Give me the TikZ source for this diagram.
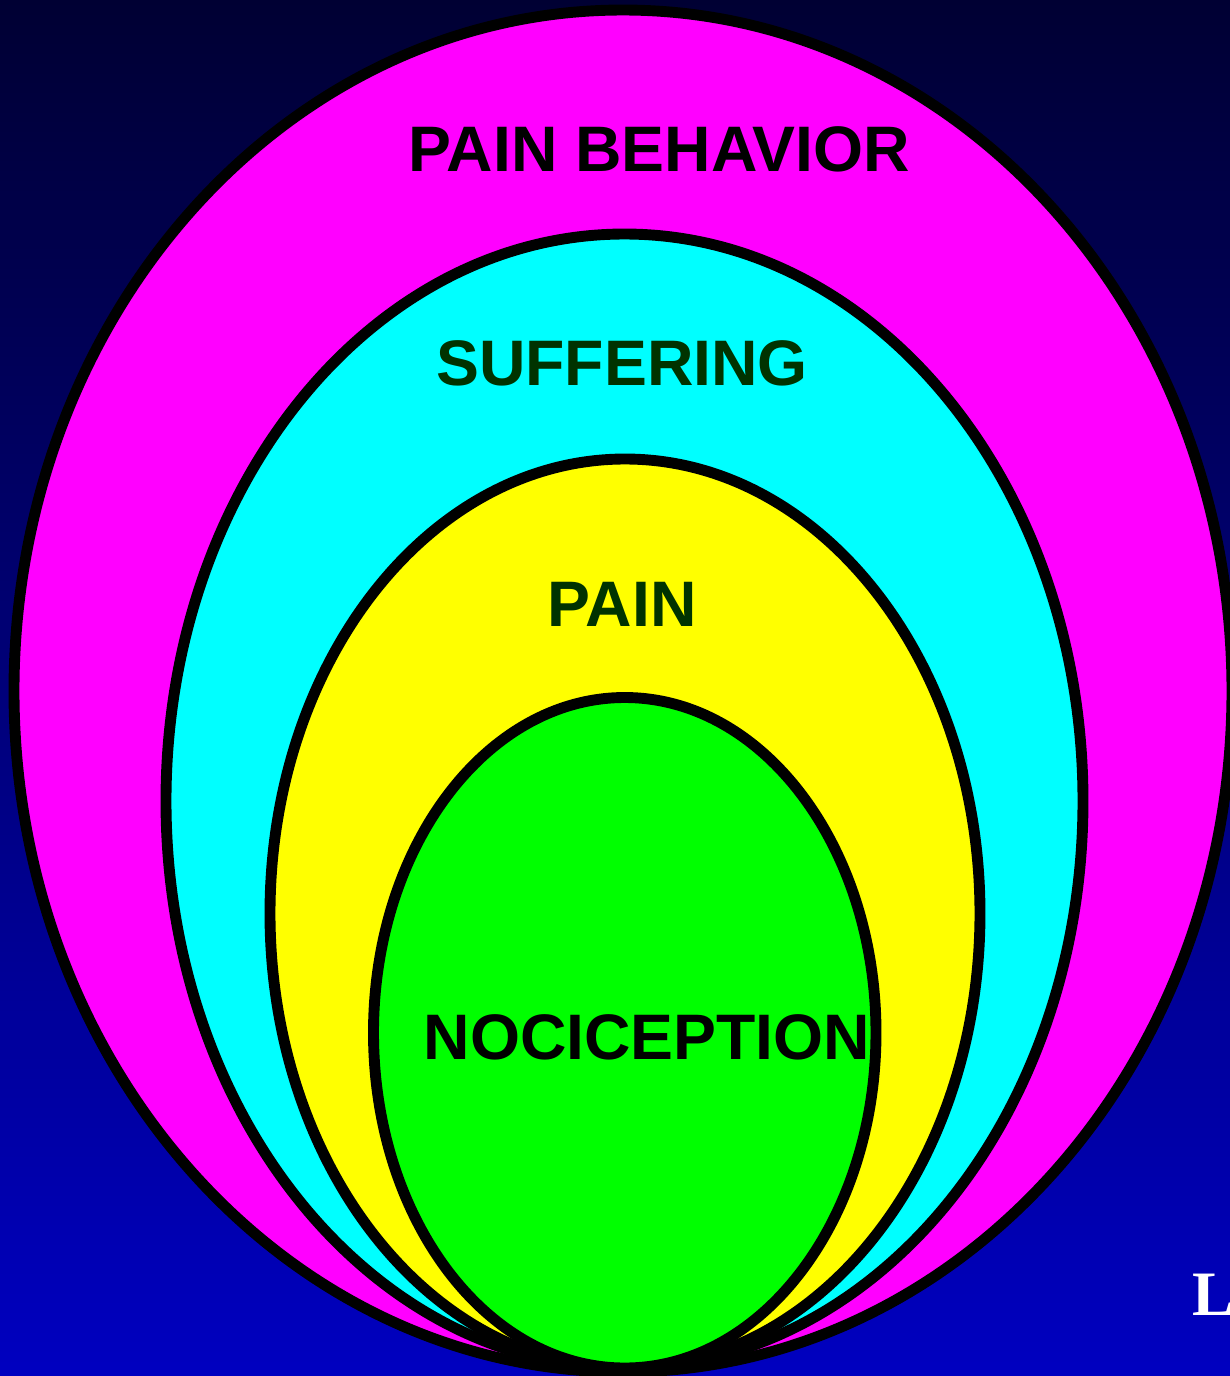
\documentclass[tikz,border=0pt]{standalone}
\usepackage{fontspec}
\setmainfont{Liberation Sans}
\newfontfamily\seriffont{Liberation Serif}
\usetikzlibrary{positioning, shapes.geometric}

\definecolor{skytop}{RGB}{0,0,51}
\definecolor{skybottom}{RGB}{0,0,192}
\definecolor{darkleaf}{RGB}{0,51,0}
\definecolor{ringpink}{RGB}{255,0,255}
\definecolor{ringcyan}{RGB}{0,255,255}
\definecolor{ringyellow}{RGB}{255,255,0}
\definecolor{ringgreen}{RGB}{0,255,0}

\begin{document}
\begin{tikzpicture}[
    every node/.style={font=\bfseries\fontsize{18.3}{20}\selectfont},
    ring/.style={ellipse, draw=black, line width=3.1pt, inner sep=0pt, outer sep=0pt},
    lbl/.style={inner sep=0pt, outer sep=0pt}]

  % background
  \useasboundingbox (0,0) rectangle (12.3,-13.76);
  \clip (0,0) rectangle (12.3,-13.76);
  \fill[top color=skytop, bottom color=skybottom] (0,0) rectangle (12.3,-13.76);

  % nested ellipses
  \node[ring, fill=ringpink, minimum width=12.18cm, minimum height=13.62cm] (behavior) at (6.23,-6.91) {};
  \node[ring, fill=ringcyan, minimum width=9.17cm, minimum height=11.34cm] (suffering) at (6.245,-8.01) {};
  \node[ring, fill=ringyellow, minimum width=7.10cm, minimum height=9.09cm] (pain) at (6.25,-9.135) {};
  \node[ring, fill=ringgreen, minimum width=5.025cm, minimum height=6.705cm] (nociception) at (6.2475,-10.3275) {};

  % labels
  \node[lbl] (behaviortext) at (6.595,-1.49) {PAIN BEHAVIOR};
  \node[lbl, text=darkleaf] (sufferingtext) at (6.22,-3.637) {SUFFERING};
  \node[lbl, text=darkleaf] (paintext) at (6.22,-6.04) {PAIN};
  \node[lbl] (nociceptiontext) at (6.47,-10.37) {NOCICEPTION};

  \node[lbl, anchor=base west, text=white, font=\seriffont\bfseries\fontsize{18}{20}\selectfont] (corner) at (11.92,-13.15) {L};
\end{tikzpicture}
\end{document}
